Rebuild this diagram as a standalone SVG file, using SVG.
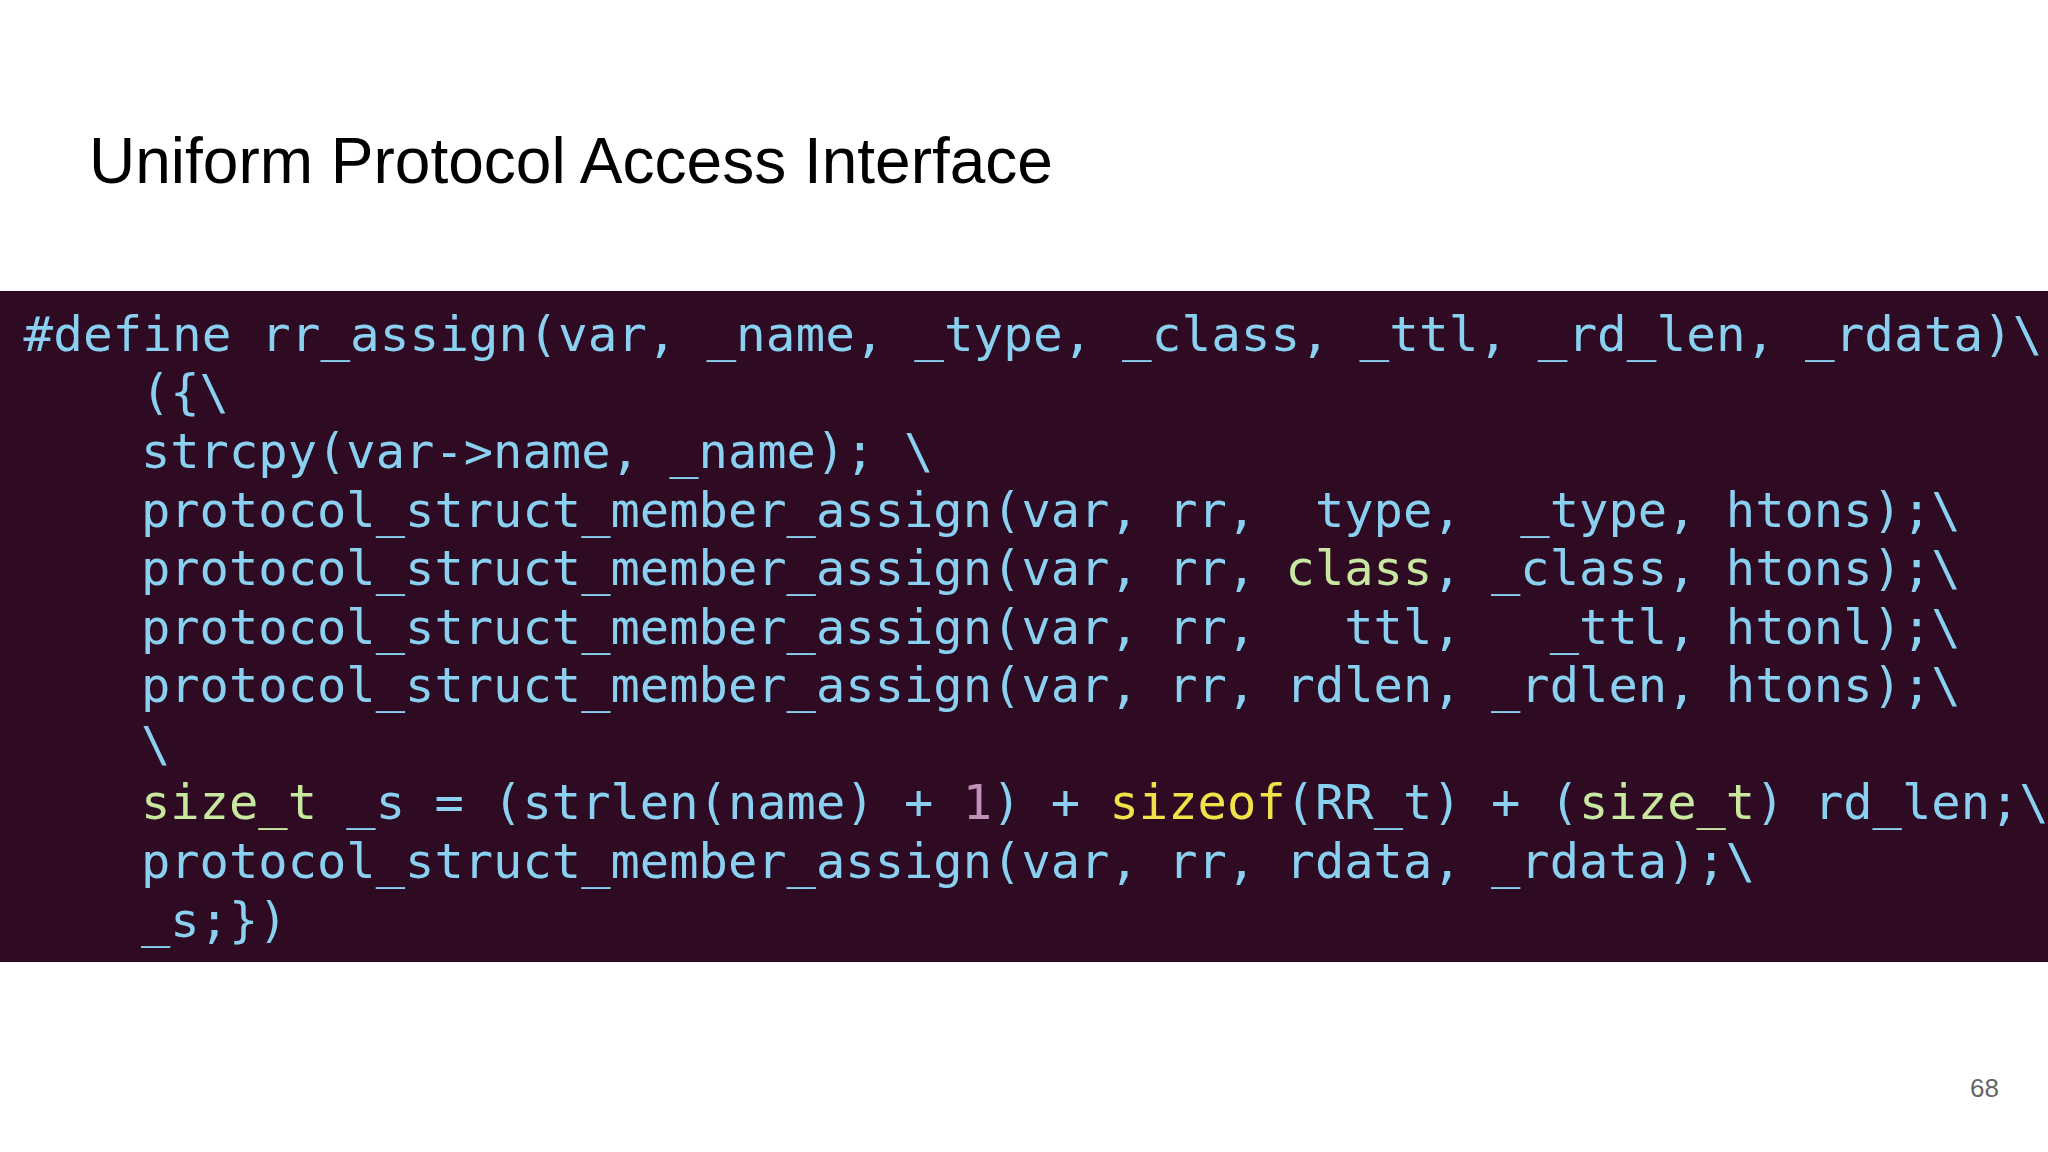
<svg xmlns="http://www.w3.org/2000/svg" width="2048" height="1152" viewBox="0 0 2048 1152">
<style>
.t{font-family:"Liberation Sans",Arial,sans-serif;fill:#000}
.c{font-family:"DejaVu Sans Mono","Liberation Mono",monospace;font-size:48.75px;fill:#8ad0f0;white-space:pre}
.g{fill:#c8e8a0}.y{fill:#f2e24a}.p{fill:#c090b8}
</style>
<rect width="2048" height="1152" fill="#fff"/>
<g id="title"><text class="t" x="89" y="183" font-size="64">Uniform Protocol Access Interface</text></g>
<g id="code">
<rect x="0" y="291" width="2048" height="671" fill="#2e0b23"/>
<g xml:space="preserve" textLength="0">
<text class="c" x="23.5" y="351" textLength="2019" lengthAdjust="spacingAndGlyphs">#define rr_assign(var, _name, _type, _class, _ttl, _rd_len, _rdata)\</text>
<text class="c" x="23.5" y="409">    ({\</text>
<text class="c" x="23.5" y="468">    strcpy(var-&gt;name, _name); \</text>
<text class="c" x="23.5" y="527">    protocol_struct_member_assign(var, rr,  type,  _type, htons);\</text>
<text class="c" x="23.5" y="585">    protocol_struct_member_assign(var, rr, <tspan class="g">class</tspan>, _class, htons);\</text>
<text class="c" x="23.5" y="644">    protocol_struct_member_assign(var, rr,   ttl,   _ttl, htonl);\</text>
<text class="c" x="23.5" y="702">    protocol_struct_member_assign(var, rr, rdlen, _rdlen, htons);\</text>
<text class="c" x="23.5" y="761">    \</text>
<text class="c" x="23.5" y="819">    <tspan class="g">size_t</tspan> _s = (strlen(name) + <tspan class="p">1</tspan>) + <tspan class="y">sizeof</tspan>(RR_t) + (<tspan class="g">size_t</tspan>) rd_len;\</text>
<text class="c" x="23.5" y="878">    protocol_struct_member_assign(var, rr, rdata, _rdata);\</text>
<text class="c" x="23.5" y="937">    _s;})</text>
</g>
</g>
<g id="page"><text class="t" x="1999" y="1097" font-size="26" fill="#666" style="fill:#666" text-anchor="end">68</text></g>
</svg>
